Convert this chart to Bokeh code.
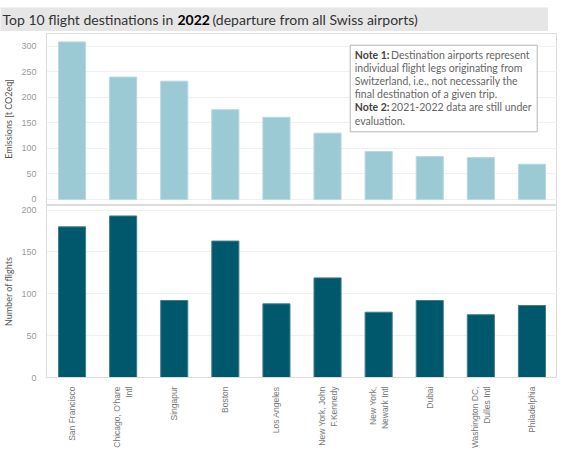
import math
from bokeh.plotting import figure
from bokeh.models import Range1d, FactorRange, FixedTicker, Label, BoxAnnotation, ColumnDataSource
from bokeh.layouts import column, row
from bokeh.embed import file_html
from bokeh.resources import INLINE

destinations = ["San Francisco", "Chicago, O'hare\nIntl", "Singapur", "Boston", "Los Angeles",
                "New York, John\nF.Kennedy", "New York,\nNewark Intl", "Dubai",
                "Washington DC,\nDulles Intl", "Philadelphia"]
emissions = [309, 240, 232, 176, 161, 130, 94, 84, 82, 69]
flights = [180, 193, 92, 163, 88, 119, 78, 92, 75, 86]
emission_ticks = [0, 50, 100, 150, 200, 250, 300]
flight_ticks = [0, 50, 100, 150, 200]

title_parts = ["Top 10 flight destinations in", "2022", "(departure from all Swiss airports)"]
note_lines = [("Note 1:", "Destination airports represent"),
              ("", "individual flight legs originating from"),
              ("", "Switzerland, i.e., not necessarily the"),
              ("", "final destination of a given trip."),
              ("Note 2:", "2021-2022 data are still under"),
              ("", "evaluation.")]

LEFT = 37
FW = 511
GRID = "#f0f0f0"
FRAME = "#dcdcdc"

src = ColumnDataSource(dict(dest=destinations, em=emissions, fl=flights))

# ---- title band ----
tf = figure(frame_width=LEFT + FW, frame_height=24, x_range=Range1d(0, 1), y_range=Range1d(0, 1),
            toolbar_location=None, output_backend="svg",
            min_border_left=0, min_border_right=0, min_border_top=0, min_border_bottom=0,
            x_axis_location=None, y_axis_location=None)
tf.grid.visible = False
tf.outline_line_color = None
tf.background_fill_color = "#e6e6e6"
tf.border_fill_color = "#e6e6e6"
tx = [2, 177, 212]
tcol = ["#333333", "#000000", "#333333"]
tsty = ["normal", "bold", "normal"]
for t, xx, c, s in zip(title_parts, tx, tcol, tsty):
    tf.add_layout(Label(x=xx, y=12, x_units="screen", y_units="screen", text=t,
                        text_font="Lato", text_font_size="14px", text_color=c,
                        text_font_style=s, text_baseline="middle", text_align="left"))

# ---- top panel ----
p1 = figure(frame_width=FW, frame_height=171, x_range=FactorRange(factors=destinations),
            y_range=Range1d(-10, 325.5), toolbar_location=None, output_backend="svg",
            x_axis_location=None, min_border_left=LEFT, min_border_right=0,
            min_border_top=2, min_border_bottom=1)
p1.vbar(x="dest", top="em", width=0.53, source=src, fill_color="#9bc9d4",
        line_color="#b6d9e2", line_width=1)

# ---- bottom panel ----
p2 = figure(frame_width=FW, frame_height=172, x_range=p1.x_range,
            y_range=Range1d(0, 205.5), toolbar_location=None, output_backend="svg",
            min_border_left=LEFT, min_border_right=0, min_border_top=0, min_border_bottom=58)
p2.vbar(x="dest", top="fl", width=0.53, source=src, fill_color="#00586c",
        line_color="#3f7f8f", line_width=1)

for p, ticks, lab in [(p1, emission_ticks, "Emissions [t CO2eq]"),
                      (p2, flight_ticks, "Number of flights")]:
    p.outline_line_color = FRAME
    p.xgrid.visible = False
    p.ygrid.ticker = FixedTicker(ticks=ticks)
    p.ygrid.grid_line_color = GRID
    ax = p.yaxis[0]
    ax.ticker = FixedTicker(ticks=ticks)
    ax.axis_line_color = FRAME
    ax.major_tick_line_color = None
    ax.minor_tick_line_color = None
    ax.major_label_text_font = "Liberation Sans"
    ax.major_label_text_font_size = "9px"
    ax.major_label_text_color = "#9a9a9a"
    ax.major_label_standoff = 4
    ax.axis_label = lab
    ax.axis_label_text_font = "Lato"
    ax.axis_label_text_font_size = "9px"
    ax.axis_label_text_font_style = "normal"
    ax.axis_label_text_color = "#555555"
    ax.axis_label_standoff = 4

xa = p2.xaxis[0]
xa.major_label_orientation = math.pi / 2
xa.major_label_text_font = "Liberation Sans"
xa.major_label_text_font_size = "8.5px"
xa.major_label_text_color = "#777777"
xa.major_label_standoff = 3
xa.axis_line_color = FRAME
xa.major_tick_line_color = None
xa.minor_tick_line_color = None

# ---- note box (screen units, relative to the top frame) ----
p1.add_layout(BoxAnnotation(left=303.7, right=490.7, top=159.3, bottom=72.7,
                            left_units="screen", right_units="screen",
                            top_units="screen", bottom_units="screen",
                            fill_color="white", fill_alpha=1.0,
                            line_color="#b5b5b5", line_width=1, line_alpha=1.0))
ly = [150, 136.7, 123.3, 110.7, 97.3, 84]
for (b, t), yy in zip(note_lines, ly):
    if b:
        p1.add_layout(Label(x=308.3, y=yy, x_units="screen", y_units="screen", text=b,
                            text_font="Lato", text_font_size="10.5px", text_font_style="bold",
                            text_color="#444444", text_baseline="middle"))
        xx = 344.5
    else:
        xx = 308.3
    p1.add_layout(Label(x=xx, y=yy, x_units="screen", y_units="screen", text=t,
                        text_font="Lato", text_font_size="10.5px",
                        text_color="#666666", text_baseline="middle"))

layout = column(row(tf), p1, p2, spacing=0, margin=(7, 0, 0, 0))
open("out.html", "w").write(file_html(layout, INLINE))
